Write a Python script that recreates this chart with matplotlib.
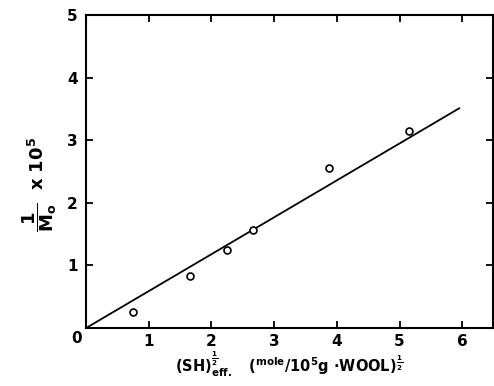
import numpy as np
from matplotlib import pyplot as plt

# data
sh_eff = [0.75, 1.66, 2.25, 2.66, 3.88, 5.15]
inv_m = [0.26, 0.84, 1.25, 1.57, 2.55, 3.15]
fit_x = [0.0, 5.95]
fit_y = [0.0, 3.51]
x_ticks = [0, 1, 2, 3, 4, 5, 6]
y_ticks = [0, 1, 2, 3, 4, 5]

plt.rcParams['mathtext.fontset'] = 'dejavusans'
plt.rcParams['font.weight'] = 'bold'

fig = plt.figure(figsize=(4.94, 3.86), dpi=100)
ax = fig.add_axes([0.174, 0.150, 0.824, 0.811])

ax.plot(fit_x, fit_y, color='black', lw=1.3)
ax.plot(sh_eff, inv_m, 'o', mfc='white', mec='black', mew=1.2, ms=5)

ax.set_xlim(0, 6.49)
ax.set_ylim(0, 5)
ax.set_xticks(x_ticks)
ax.set_yticks(y_ticks)
ax.set_xticklabels(['' if t == 0 else str(t) for t in x_ticks])
ax.set_yticklabels(['' if t == 0 else str(t) for t in y_ticks])
ax.tick_params(direction='in', top=True, right=True, length=5, width=1.3,
               labelsize=11, pad=6)
ax.tick_params(axis='x', pad=4)
for lab in ax.get_xticklabels() + ax.get_yticklabels():
    lab.set_fontweight('bold')
for s in ax.spines.values():
    s.set_linewidth(1.5)

# the shared 0 at the corner
fig.text(0.154, 0.124, '0', fontsize=11, fontweight='bold', ha='center', va='center')

ax.set_xlabel(r'(SH)$_{\mathbf{eff.}}^{\mathbf{\frac{1}{2}}}$   '
              r'($^{\mathbf{mole}}$/10$^{\mathbf{5}}$g $\cdot$WOOL)$^{\mathbf{\frac{1}{2}}}$',
              fontsize=10.5, fontweight='bold', labelpad=1)
ax.set_ylabel(r'$\mathbf{\dfrac{1}{M_o}}$  x 10$^{\mathbf{5}}$', fontsize=13,
              fontweight='bold', labelpad=6)
ax.yaxis.set_label_coords(-0.065, 0.46)

fig.savefig('out.png', dpi=100)
